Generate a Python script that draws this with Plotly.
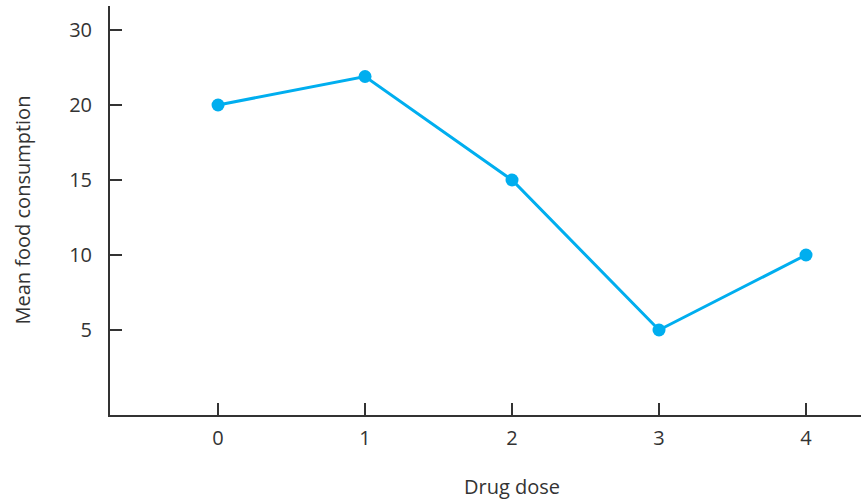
import plotly.graph_objects as go

doses = [0, 1, 2, 3, 4]
consumption = [20, 21.9, 15, 5, 10]
y_tick_vals = [5, 10, 15, 20, 25]
y_tick_text = ["5", "10", "15", "20", "30"]
x_tick_vals = [0, 1, 2, 3, 4]
x_tick_text = ["0", "1", "2", "3", "4"]

fig = go.Figure()
fig.add_trace(go.Scatter(
    x=doses, y=consumption, mode="lines+markers",
    line=dict(color="#00AEEF", width=3),
    marker=dict(color="#00AEEF", size=13),
    showlegend=False,
))

font_family = "'Open Sans', 'Noto Sans', sans-serif"
fig.update_layout(
    width=861, height=500,
    margin=dict(l=110, r=0, t=6, b=85),
    paper_bgcolor="white", plot_bgcolor="white",
    font=dict(family=font_family, size=20, color="#333333"),
)
fig.update_xaxes(
    range=[-0.735, 4.374],
    tickvals=x_tick_vals, ticktext=x_tick_text,
    ticks="inside", ticklen=12, tickwidth=2, tickcolor="#333333",
    showline=True, linecolor="#333333", linewidth=2,
    showgrid=False, zeroline=False, automargin=False,
    ticklabelstandoff=4,
)
fig.update_yaxes(
    range=[-0.667, 26.6],
    tickvals=y_tick_vals, ticktext=y_tick_text,
    ticks="inside", ticklen=12, tickwidth=2, tickcolor="#333333",
    showline=True, linecolor="#333333", linewidth=2,
    showgrid=False, zeroline=False, automargin=False,
    ticklabelstandoff=12,
)
fig.add_annotation(
    text="Drug dose", xref="x", yref="paper", x=2, y=0,
    yanchor="middle", yshift=-71, showarrow=False,
    font=dict(size=20, color="#333333"),
)
fig.add_annotation(
    text="Mean food consumption", xref="paper", yref="paper", x=0, y=0.5,
    xanchor="center", yanchor="middle", xshift=-88, textangle=-90,
    showarrow=False, font=dict(size=20, color="#333333"),
)

fig.write_html(
    "out.html",
    config={"displayModeBar": False},
    post_script="document.body.style.margin='0';document.body.style.overflow='hidden';",
)
